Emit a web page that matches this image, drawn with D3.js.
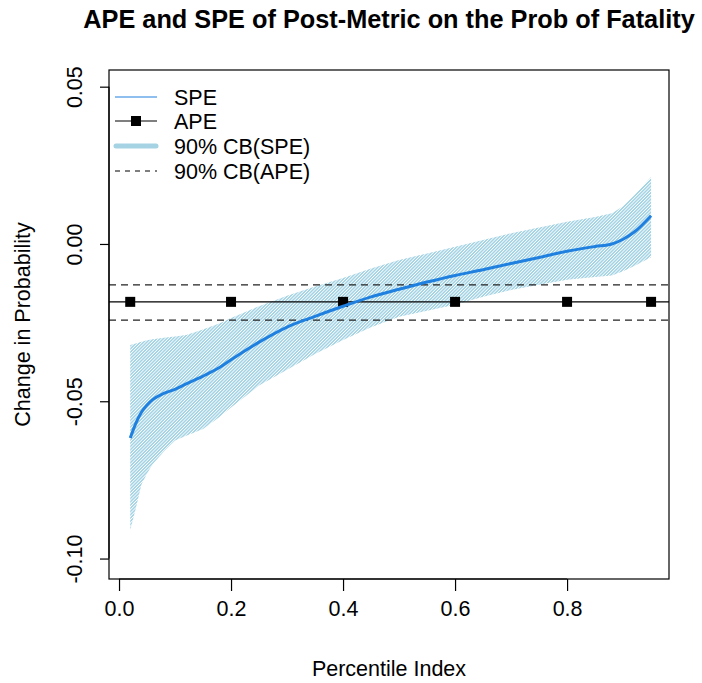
<!DOCTYPE html>
<html>
<head>
<meta charset="utf-8">
<script src="https://cdn.jsdelivr.net/npm/d3@7"></script>
<style>
  body { margin: 0; background: #fff; }
  text { font-family: "Liberation Sans", Arial, sans-serif; }
</style>
</head>
<body>
<div id="chart"></div>
<script>
const pct = [0.02,0.03,0.04,0.05,0.06,0.08,0.10,0.12,0.15,0.18,0.20,0.25,0.30,0.35,0.40,0.45,0.50,0.55,0.60,0.65,0.70,0.75,0.80,0.85,0.88,0.90,0.92,0.95];
const spe = [-0.0617,-0.0570,-0.0535,-0.0512,-0.0495,-0.0475,-0.0462,-0.0445,-0.0420,-0.0392,-0.0368,-0.0312,-0.0264,-0.0230,-0.0198,-0.0168,-0.0144,-0.0121,-0.0100,-0.0082,-0.0062,-0.0043,-0.0023,-0.0008,0.0000,0.0015,0.0038,0.0090];
const speUpper = [-0.0321,-0.0316,-0.0311,-0.0306,-0.0303,-0.0298,-0.0294,-0.0289,-0.0272,-0.0252,-0.0235,-0.0198,-0.0165,-0.0135,-0.0108,-0.0078,-0.0051,-0.0030,-0.0009,0.0013,0.0034,0.0052,0.0071,0.0086,0.0098,0.0120,0.0155,0.0213];
const speLower = [-0.0909,-0.0840,-0.0765,-0.0730,-0.0700,-0.0660,-0.0625,-0.0610,-0.0588,-0.0549,-0.0520,-0.0450,-0.0400,-0.0350,-0.0305,-0.0265,-0.0231,-0.0212,-0.0193,-0.0168,-0.0146,-0.0130,-0.0114,-0.0105,-0.0100,-0.0087,-0.0070,-0.0042];
const apePct = [0.02,0.2,0.4,0.6,0.8,0.95];
const ape = -0.0184;
const apeCB = [-0.0130,-0.0242];
const xTicks = [0,0.2,0.4,0.6,0.8];
const yTicks = [0.05,0,-0.05,-0.10];
const legendLabels = ["SPE","APE","90% CB(SPE)","90% CB(APE)"];

const W = 702, H = 683;
const box = {left: 109, right: 669, top: 70, bottom: 579};
const fs = 21.5;

const svg = d3.select("#chart").append("svg").attr("width", W).attr("height", H);

const x = d3.scaleLinear().domain([-0.0179, 0.982]).range([box.left, box.right]);
const y = d3.scaleLinear().domain([-0.1065, 0.0553]).range([box.bottom, box.top]);

const pat = svg.append("defs").append("pattern")
  .attr("id", "hatch").attr("patternUnits", "userSpaceOnUse")
  .attr("width", 2.3).attr("height", 2.3)
  .attr("patternTransform", "rotate(45)");
pat.append("line").attr("x1", 0.8).attr("y1", 0).attr("x2", 0.8).attr("y2", 2.3)
  .attr("stroke", "#a2d2e3").attr("stroke-width", 1.5);

const rows = pct.map((p, i) => ({p, v: spe[i], lo: speLower[i], hi: speUpper[i]}));

// band
svg.append("path").datum(rows)
  .attr("fill", "url(#hatch)")
  .attr("d", d3.area().x(d => x(d.p)).y0(d => y(d.lo)).y1(d => y(d.hi)));

// APE line + CB
svg.append("line").attr("x1", box.left).attr("x2", box.right)
  .attr("y1", y(ape)).attr("y2", y(ape)).attr("stroke", "#000").attr("stroke-width", 1.2);
svg.selectAll(".cb").data(apeCB).join("line")
  .attr("x1", box.left).attr("x2", box.right)
  .attr("y1", d => y(d)).attr("y2", d => y(d))
  .attr("stroke", "#222").attr("stroke-width", 1.3).attr("stroke-dasharray", "7,5");
svg.selectAll(".ape").data(apePct).join("rect")
  .attr("x", d => x(d) - 5).attr("y", y(ape) - 5).attr("width", 10).attr("height", 10).attr("fill", "#000");

// SPE line
svg.append("path").datum(rows)
  .attr("fill", "none").attr("stroke", "#1f80e0").attr("stroke-width", 3)
  .attr("d", d3.line().x(d => x(d.p)).y(d => y(d.v)).curve(d3.curveMonotoneX));

// box
svg.append("rect").attr("x", box.left).attr("y", box.top)
  .attr("width", box.right - box.left).attr("height", box.bottom - box.top)
  .attr("fill", "none").attr("stroke", "#000").attr("stroke-width", 1.2);

// axes
const xa = svg.append("g").attr("transform", `translate(0,${box.bottom})`)
  .call(d3.axisBottom(x).tickValues(xTicks).tickFormat(d => d.toFixed(1)).tickSize(12).tickPadding(10));
xa.select(".domain").attr("d", `M${x(0)},0H${x(0.8)}`).attr("stroke-width", 1.2);
xa.selectAll("text").attr("font-size", fs).attr("fill", "#000");
xa.selectAll("line").attr("stroke-width", 1.2);

const ya = svg.append("g").attr("transform", `translate(${box.left},0)`)
  .call(d3.axisLeft(y).tickValues(yTicks).tickFormat(d => d.toFixed(2)).tickSize(9));
ya.select(".domain").attr("d", `M0,${y(0.05)}V${y(-0.10)}`).attr("stroke-width", 1.2);
ya.selectAll("line").attr("stroke-width", 1.2);
ya.selectAll("text").attr("font-size", fs).attr("fill", "#000")
  .attr("x", null).attr("dy", null)
  .attr("text-anchor", "middle")
  .attr("transform", "translate(-27,0) rotate(-90)");

// titles
svg.append("text").attr("x", (box.left + box.right) / 2).attr("y", 28)
  .attr("text-anchor", "middle").attr("font-size", 25.3).attr("font-weight", "bold")
  .text("APE and SPE of Post-Metric on the Prob of Fatality");
svg.append("text").attr("x", (box.left + box.right) / 2).attr("y", 676)
  .attr("text-anchor", "middle").attr("font-size", fs).text("Percentile Index");
svg.append("text").attr("transform", `translate(30,${(box.top + box.bottom) / 2}) rotate(-90)`)
  .attr("text-anchor", "middle").attr("font-size", fs).text("Change in Probability");

// legend
const lg = svg.append("g");
const ly = [97, 121, 146, 171];
lg.selectAll("text").data(legendLabels).join("text")
  .attr("x", 174).attr("y", (d, i) => ly[i] + 7.5).attr("font-size", fs).text(d => d);
lg.append("line").attr("x1", 115).attr("x2", 157).attr("y1", ly[0]).attr("y2", ly[0]).attr("stroke", "#1f80e0").attr("stroke-width", 1.2);
lg.append("line").attr("x1", 115).attr("x2", 157).attr("y1", ly[1]).attr("y2", ly[1]).attr("stroke", "#000").attr("stroke-width", 1.2);
lg.append("rect").attr("x", 131).attr("y", ly[1] - 5).attr("width", 10).attr("height", 10).attr("fill", "#000");
lg.append("line").attr("x1", 116).attr("x2", 156).attr("y1", ly[2]).attr("y2", ly[2]).attr("stroke", "#a6d3e3").attr("stroke-width", 5).attr("stroke-linecap", "round");
lg.append("line").attr("x1", 115).attr("x2", 157).attr("y1", ly[3]).attr("y2", ly[3]).attr("stroke", "#000").attr("stroke-width", 1.2).attr("stroke-dasharray", "5,5");
</script>
</body>
</html>
